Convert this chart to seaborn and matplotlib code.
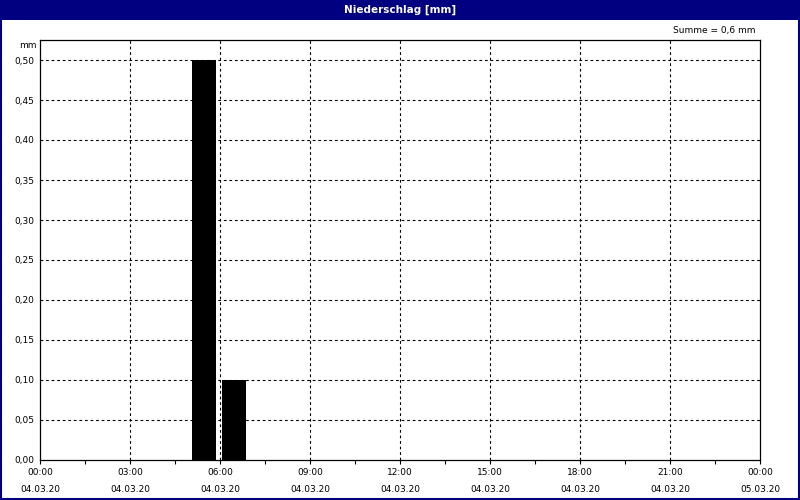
import numpy as np
import pandas as pd
import seaborn as sns
import matplotlib.pyplot as plt
from matplotlib.patches import Rectangle

# hourly precipitation on 04.03.20 (mm), hour = start of interval
hours = list(range(24))
precip = [0, 0, 0, 0, 0, 0.5, 0.1, 0, 0, 0, 0, 0,
          0, 0, 0, 0, 0, 0, 0, 0, 0, 0, 0, 0]
tick_hours = [0, 3, 6, 9, 12, 15, 18, 21, 24]
tick_times = ["00:00", "03:00", "06:00", "09:00", "12:00", "15:00", "18:00", "21:00", "00:00"]
tick_dates = ["04.03.20"] * 8 + ["05.03.20"]
y_ticks = [0, 0.05, 0.10, 0.15, 0.20, 0.25, 0.30, 0.35, 0.40, 0.45, 0.50]
title = "Niederschlag [mm]"
summe = "Summe = 0,6 mm"

df = pd.DataFrame({"hour": hours, "mm": precip})
df["center"] = df["hour"] + 0.47

sns.set_style("white", {"text.color": "black", "xtick.color": "black",
                        "ytick.color": "black", "axes.labelcolor": "black"})
plt.rcParams["font.family"] = ["DejaVu Sans"]
navy = "#000080"

fig = plt.figure(figsize=(8, 5), dpi=100)
fig.patches.append(Rectangle((0, 0.96), 1, 0.04, transform=fig.transFigure,
                             facecolor=navy, edgecolor="none", zorder=0))
fig.patches.append(Rectangle((0.001, 0.002), 0.998, 0.996, transform=fig.transFigure,
                             facecolor="none", edgecolor=navy, linewidth=1.5, zorder=5))
fig.text(0.5, 0.98, title, color="white", fontsize=7.5, fontweight="bold",
         ha="center", va="center")

ax = fig.add_axes([0.05, 0.08, 0.9, 0.84])
sns.barplot(data=df, x="center", y="mm", native_scale=True, width=0.8,
            color="black", saturation=1, linewidth=0, ax=ax, zorder=3)

ax.set_xlim(0, 24)
ax.set_ylim(0, 0.525)
ax.set_xticks(tick_hours)
ax.set_xticks(np.arange(1.5, 24, 3), minor=True)
ax.set_xticklabels([f"{t}\n{d}" for t, d in zip(tick_times, tick_dates)],
                   fontsize=6.5, linespacing=2.15, color="black")
ax.set_yticks(y_ticks)
ax.set_yticklabels([f"{v:.2f}".replace(".", ",") for v in y_ticks], fontsize=6.5,
                   color="black")
ax.tick_params(axis="x", which="both", direction="out", length=3, width=0.8,
               color="black", pad=3, bottom=True)
ax.tick_params(axis="y", length=0, pad=4)
ax.set_xlabel("")
ax.set_ylabel("")

for v in y_ticks[1:]:
    ax.axhline(v, color="black", linestyle=(0, (2.5, 2.5)), linewidth=0.8, zorder=1)
for h in tick_hours[1:-1]:
    ax.axvline(h, color="black", linestyle=(0, (2.5, 2.5)), linewidth=0.8, zorder=1)

for s in ax.spines.values():
    s.set_visible(True)
    s.set_color("black")
    s.set_linewidth(0.9)

ax.text(-0.005, 1.0 - 5 / 420, "mm", transform=ax.transAxes, fontsize=6.5,
        ha="right", va="center", color="black")
fig.text(0.944, 0.938, summe, fontsize=6.5, ha="right", va="center", color="black")

fig.savefig("out.png", dpi=100)
